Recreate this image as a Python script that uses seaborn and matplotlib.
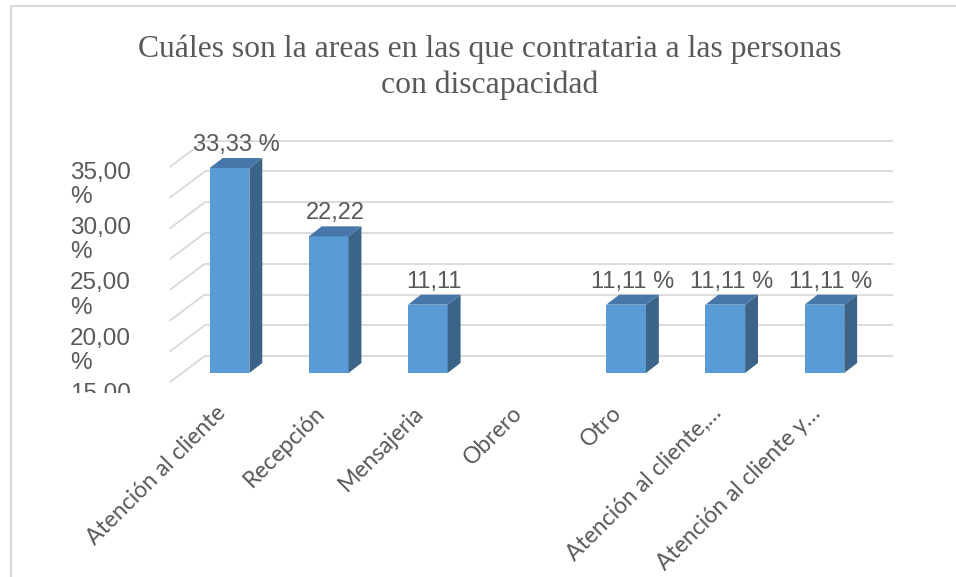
import numpy as np
import pandas as pd
import matplotlib
matplotlib.use("Agg")
import matplotlib.pyplot as plt
import matplotlib.transforms as mtransforms
from matplotlib.patches import Polygon
import seaborn as sns

# ---------------- data ----------------
categories = ["Atención al cliente", "Recepción", "Mensajeria", "Obrero", "Otro",
              "Atención al cliente,…", "Atención al cliente y…"]
values = [33.33, 22.22, 11.11, 0.0, 11.11, 11.11, 11.11]
value_labels = ["33,33 %", "22,22", "11,11", "", "11,11 %", "11,11 %", "11,11 %"]
axis_labels = ["35,00 %", "30,00 %", "25,00 %", "20,00 %", "15,00"]
grid_values = [0, 5, 10, 15, 20, 25, 30, 35]
title_lines = ["Cuáles son la areas en las que contrataria a las personas",
               "con discapacidad"]

# ---------------- style ----------------
sns.set_theme(style="white")
plt.rcParams["font.family"] = ["Liberation Sans", "DejaVu Sans"]
TXT = "#595959"
FRONT = "#5B9BD5"
TOP = "#4677A8"
SIDE = "#3B6488"
GRID = "#D9D9D9"

W, H = 956, 577
fig = plt.figure(figsize=(W / 100, H / 100), dpi=100)

# axes = front plane of the bars
ax_l, ax_r = 180, 874
ax_bottom_px = 373          # pixel row (from top) of value 0
ppu = 6.15                  # pixels per value unit
ylim = (0, 36)
ax_top_px = ax_bottom_px - ylim[1] * ppu
ax = fig.add_axes([ax_l / W, (H - ax_bottom_px) / H, (ax_r - ax_l) / W,
                   (ax_bottom_px - ax_top_px) / H])
ax.set_xlim(-0.48, 6.46)
ax.set_ylim(*ylim)
ax.patch.set_alpha(0)
for s in ax.spines.values():
    s.set_visible(False)

px_x = (ax_r - ax_l) / 6.94     # pixels per category unit
def dx(px):
    return px / px_x
def dy(px):
    return px / ppu

df = pd.DataFrame({"area": categories, "pct": values})

# back wall + left wall grid
x_wall_back = -0.48 + dx(23)
x_wall_front = -0.48 - dx(12)
x_right = -0.48 + dx(897 - ax_l)
for v in grid_values:
    yb = v + dy(17)
    ax.plot([x_wall_back, x_right], [yb, yb], color=GRID, lw=1.3, zorder=0,
            clip_on=False, solid_capstyle="butt")
    ax.plot([x_wall_front, x_wall_back], [v - dy(9), yb], color=GRID, lw=1.3,
            zorder=0, clip_on=False)

sns.barplot(data=df, x="area", y="pct", color=FRONT, saturation=1, width=0.4,
            ax=ax, zorder=3, linewidth=0)

ddx, ddy = dx(13), dy(10)
for p, lab in zip(ax.patches, value_labels):
    x0 = p.get_x(); w = p.get_width(); h = p.get_height()
    if h <= 0:
        continue
    x1 = x0 + w
    side = Polygon([[x1, 0], [x1 + ddx, ddy], [x1 + ddx, h + ddy], [x1, h]],
                   closed=True, facecolor=SIDE, edgecolor="none", zorder=3, clip_on=False)
    top = Polygon([[x0, h], [x0 + ddx, h + ddy], [x1 + ddx, h + ddy], [x1, h]],
                  closed=True, facecolor=TOP, edgecolor="none", zorder=3, clip_on=False)
    ax.add_patch(side)
    ax.add_patch(top)
    if lab:
        ax.annotate(lab, (x0 + w / 2, h), xytext=(6.5, 17), textcoords="offset pixels",
                    ha="center", va="baseline", fontsize=17, color=TXT,
                    family=["Liberation Sans", "DejaVu Sans"], annotation_clip=False)

# x tick labels
ax.set_xlabel("")
ax.set_ylabel("")
ax.set_yticks([])
ax.tick_params(axis="x", length=0, pad=21)
ax.set_xticks(range(len(categories)))
ax.set_xticklabels(categories, rotation=45, ha="right", rotation_mode="anchor",
                   fontsize=16.5, color=TXT, family=["Lato", "DejaVu Sans"])
shift = mtransforms.ScaledTranslation(-15 / 100, 0, fig.dpi_scale_trans)
for t in ax.get_xticklabels():
    t.set_transform(t.get_transform() + shift)

# value axis labels (wrapped as in the original)
clip = mtransforms.Bbox.from_extents(0, H - 393, W, H)
for i, lab in enumerate(axis_labels):
    top_px = 161.5 + i * 55.4
    parts = lab.split(" ")
    for j, part in enumerate(parts):
        t = fig.text(70 / W, 1 - (top_px + j * 24.5) / H, part, ha="left", va="top",
                     fontsize=17.5, color=TXT, family=["Liberation Sans", "DejaVu Sans"])
        t.set_clip_box(mtransforms.TransformedBbox(clip, mtransforms.IdentityTransform()))
        t.set_clip_on(True)

# title
for k, line in enumerate(title_lines):
    fig.text(490 / W, 1 - (57 + 36 * k) / H, line, ha="center", va="baseline",
             fontsize=22.8, color=TXT, family=["Liberation Serif", "DejaVu Serif"])

# chart border
fig.add_artist(plt.Line2D([11 / W, 1], [1 - 6 / H, 1 - 6 / H], color="#D9D9D9", lw=1.5))
fig.add_artist(plt.Line2D([11 / W, 11 / W], [0, 1 - 6 / H], color="#D9D9D9", lw=1.5))

fig.savefig("out.png", dpi=100)
